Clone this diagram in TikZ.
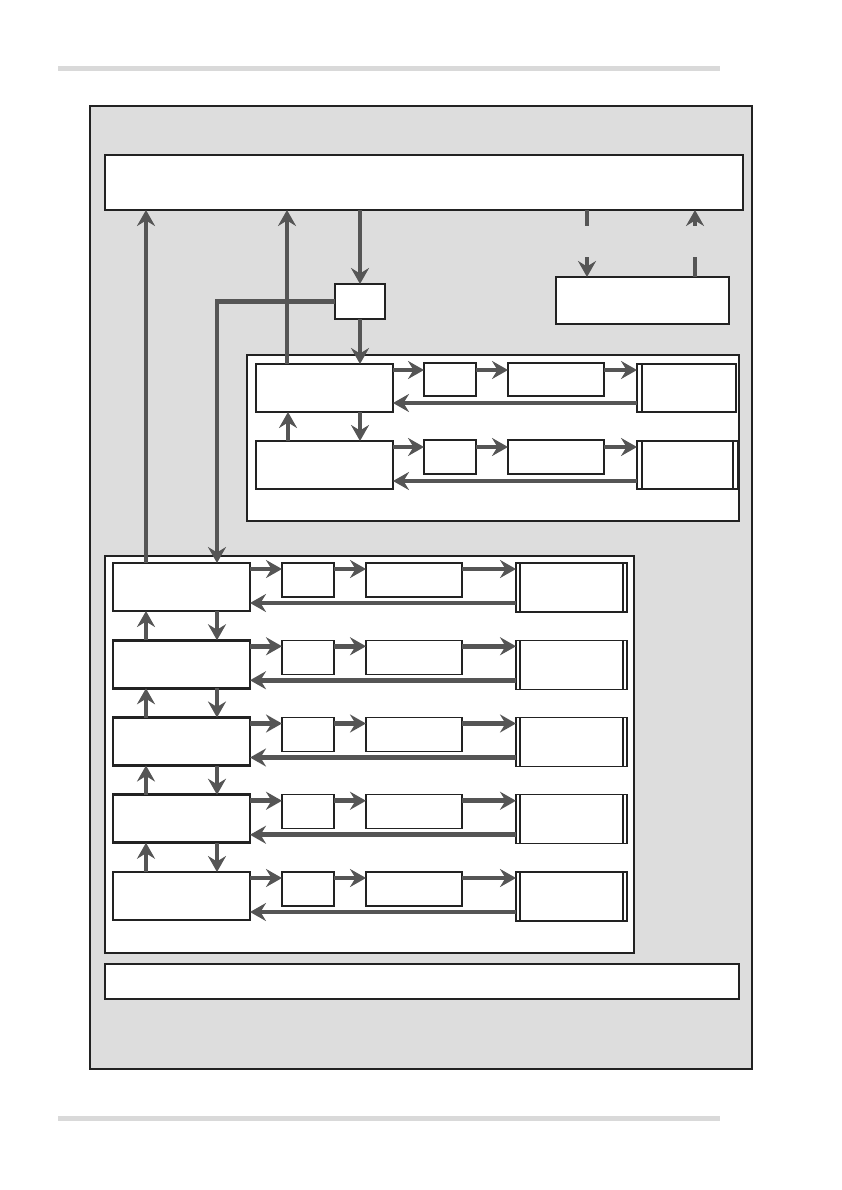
\documentclass[tikz,border=0pt]{standalone}
\usetikzlibrary{arrows.meta}
\definecolor{bgG}{RGB}{221,221,221}
\definecolor{ruleG}{RGB}{217,217,217}
\definecolor{arrG}{RGB}{85,85,85}
\definecolor{edgeK}{RGB}{34,34,34}
\begin{document}
\begin{tikzpicture}[x=1pt,y=-1pt,
  box/.style={draw=edgeK, fill=white, line width=1.2pt, anchor=north west, inner sep=0pt, outer sep=0pt},
  thickbox/.style={box, line width=2.6pt},
  arr/.style={draw=arrG, line width=4.6pt, -{Stealth[length=16pt,width=18pt,inset=5.5pt]}},
  plainline/.style={draw=arrG, line width=4.6pt},
  innerline/.style={draw=edgeK, line width=1.2pt},
]
\fill[white] (0,0) rectangle (842,1190);
\useasboundingbox (0,0) rectangle (842,1190);

% page rules
\draw[ruleG, line width=5pt] (58,69) -- (720,69);
\draw[ruleG, line width=5pt] (58,1118) -- (720,1118);

% outer panel
\node[box, fill=bgG, line width=1.4pt, minimum width=662pt, minimum height=963pt] (outer) at (90,106) {};

% top box, small box, right box
\node[box, minimum width=638pt, minimum height=55pt] (T) at (105,155) {};
\node[box, minimum width=50pt, minimum height=35pt] (S) at (335,284) {};
\node[thickbox, minimum width=173pt, minimum height=47pt] (R) at (556,277) {};

% upper group
\node[box, minimum width=492pt, minimum height=166pt] (UG) at (247,355) {};
\node[thickbox, minimum width=137pt, minimum height=48pt] (U1) at (256,364) {};
\node[thickbox, minimum width=137pt, minimum height=48pt] (U2) at (256,441) {};
\node[box, minimum width=52pt, minimum height=33pt] (US1) at (424,363) {};
\node[box, minimum width=96pt, minimum height=33pt] (UM1) at (508,363) {};
\node[box, minimum width=99pt, minimum height=48pt] (UE1) at (637,364) {};
\draw[innerline] ([xshift=5pt]UE1.north west) -- ([xshift=5pt]UE1.south west);
\node[box, minimum width=52pt, minimum height=34pt] (US2) at (424,440) {};
\node[box, minimum width=96pt, minimum height=34pt] (UM2) at (508,440) {};
\node[box, minimum width=101pt, minimum height=48pt] (UE2) at (637,441) {};
\draw[innerline] ([xshift=5pt]UE2.north west) -- ([xshift=5pt]UE2.south west);
\draw[innerline] ([xshift=-5pt]UE2.north east) -- ([xshift=-5pt]UE2.south east);

% lower group
\node[box, minimum width=529pt, minimum height=397pt] (LG) at (105,556) {};
\foreach \k in {1,...,5}{
  \pgfmathsetmacro{\yy}{563+77.25*(\k-1)}
  \pgfmathsetmacro{\ya}{\yy+6}
  \pgfmathsetmacro{\yb}{\yy+40}
  \node[thickbox, minimum width=137pt, minimum height=48pt] (L\k) at (113,\yy) {};
  \node[box, minimum width=52pt, minimum height=34pt] (LS\k) at (282,\yy) {};
  \node[box, minimum width=96pt, minimum height=34pt] (LM\k) at (366,\yy) {};
  \node[box, minimum width=111pt, minimum height=49pt] (LE\k) at (516,\yy) {};
  \draw[innerline] ([xshift=4pt]LE\k.north west) -- ([xshift=4pt]LE\k.south west);
  \draw[innerline] ([xshift=-4pt]LE\k.north east) -- ([xshift=-4pt]LE\k.south east);
  \draw[arr] (L\k.east |- 0,\ya) -- (LS\k.west |- 0,\ya);
  \draw[arr] (LS\k.east |- 0,\ya) -- (LM\k.west |- 0,\ya);
  \draw[arr] (LM\k.east |- 0,\ya) -- (LE\k.west |- 0,\ya);
  \draw[arr] (LE\k.west |- 0,\yb) -- (L\k.east |- 0,\yb);
}
\foreach \k [evaluate=\k as \j using int(\k+1)] in {1,...,4}{
  \draw[arr] (L\j.north -| 146,0) -- (L\k.south -| 146,0);
  \draw[arr] (L\k.south -| 217,0) -- (L\j.north -| 217,0);
}

% bottom box
\node[box, minimum width=634pt, minimum height=35pt] (B) at (105,964) {};

% upper group connectors
\draw[arr] (U1.east |- 0,370) -- (US1.west |- 0,370);
\draw[arr] (US1.east |- 0,370) -- (UM1.west |- 0,370);
\draw[arr] (UM1.east |- 0,370) -- (UE1.west |- 0,370);
\draw[arr] (UE1.west |- 0,403) -- (U1.east |- 0,403);
\draw[arr] (U2.east |- 0,447) -- (US2.west |- 0,447);
\draw[arr] (US2.east |- 0,447) -- (UM2.west |- 0,447);
\draw[arr] (UM2.east |- 0,447) -- (UE2.west |- 0,447);
\draw[arr] (UE2.west |- 0,481) -- (U2.east |- 0,481);
\draw[arr] (U2.north -| 288,0) -- (U1.south -| 288,0);
\draw[arr] (U1.south -| 360,0) -- (U2.north -| 360,0);

% main connectors
\draw[arr] (L1.north -| 146,0) -- (T.south -| 146,0);
\draw[arr] (U1.north -| 287,0) -- (T.south -| 287,0);
\draw[arr] (T.south -| 360,0) -- (S.north -| 360,0);
\draw[arr] (S.south -| 360,0) -- (U1.north -| 360,0);
\draw[arr] (S.west) -| (L1.north -| 217,0);

% interrupted links to right box
\coordinate (g1a) at (587,226);
\coordinate (g1b) at (587,257);
\coordinate (g2a) at (695,226);
\coordinate (g2b) at (695,257);
\draw[plainline] (T.south -| g1a) -- (g1a);
\draw[arr] (g1b) -- (R.north -| g1b);
\draw[plainline] (R.north -| g2b) -- (g2b);
\draw[arr] (g2a) -- (T.south -| g2a);
\end{tikzpicture}
\end{document}
